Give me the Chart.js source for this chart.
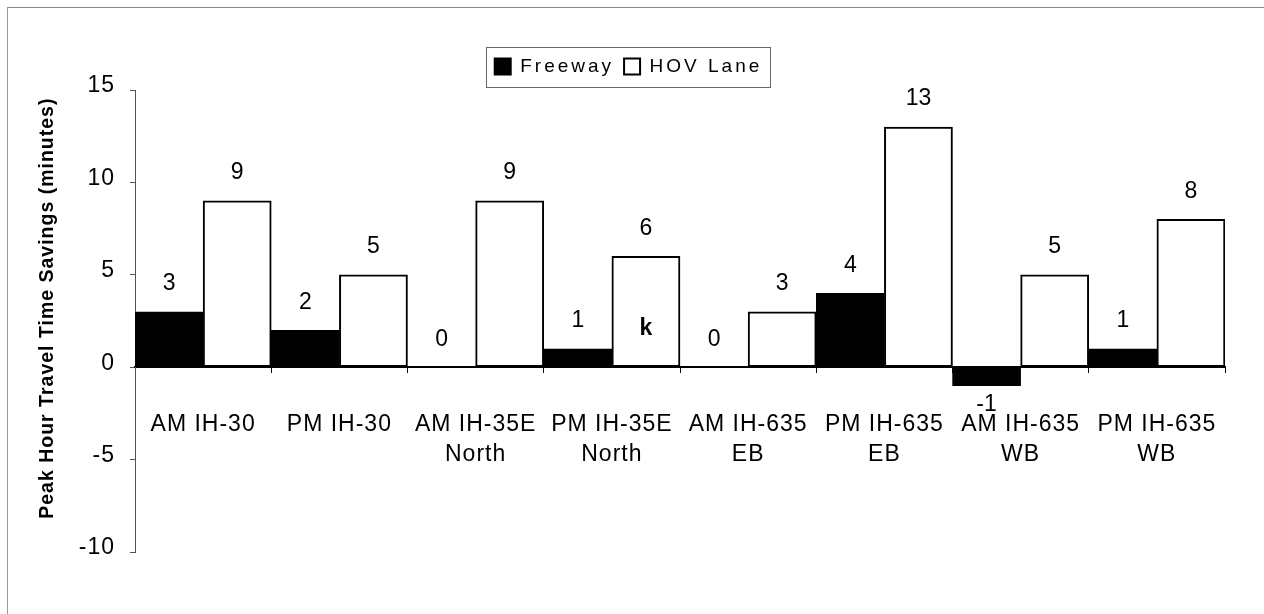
<!DOCTYPE html>
<html><head><meta charset="utf-8">
<script src="https://cdn.jsdelivr.net/npm/chart.js@4.4.0/dist/chart.umd.min.js"></script>
<style>
html,body{margin:0;padding:0;background:#fff;overflow:hidden}
#wrap{position:relative;width:1264px;height:614px}
#frame{position:absolute;left:7px;top:7px;width:1300px;height:700px;border-left:1px solid #9a9a9a;border-top:1px solid #8a8a8a;pointer-events:none}
canvas{display:block}
</style></head><body>
<div id="wrap"><canvas id="c" width="1264" height="614"></canvas><div id="frame"></div></div>
<script>
const categories = [['AM IH-30'],['PM IH-30'],['AM IH-35E','North'],['PM IH-35E','North'],['AM IH-635','EB'],['PM IH-635','EB'],['AM IH-635','WB'],['PM IH-635','WB']];
const seriesNames = ['Freeway','HOV Lane'];
const freeway = [3,2,0,1,0,4,-1,1];
const hovLane = [9,5,9,6,3,13,5,8];
const yTicks = [-10,-5,0,5,10,15];
const yTitle = '    Peak Hour Travel Time Savings (minutes)';
const notes = [{series:1, index:3, value:2.1, text:'k'}];

const FONT = "'Liberation Sans', Arial, sans-serif";

function patchLegend(chart){
  const lg = chart.legend;
  if(!lg || lg._patched) return;
  lg._patched = true;
  const f = lg.fit, d = lg.draw;
  lg.fit = function(){
    const c = this.ctx, o = c.letterSpacing;
    c.letterSpacing = '3px';
    f.call(this);
    c.letterSpacing = o;
    this.height += 4;
  };
  lg.draw = function(){
    const c = this.ctx, o = c.letterSpacing;
    c.letterSpacing = '3px';
    d.call(this);
    c.letterSpacing = o;
  };
}

const spacingPlugin = {
  id:'spacing',
  beforeLayout(chart){ chart.ctx.letterSpacing='1px'; patchLegend(chart); },
  beforeDraw(chart){ chart.ctx.letterSpacing='1px'; }
};

const labelPlugin = {
  id:'valueLabels',
  afterDatasetsDraw(chart){
    const ctx = chart.ctx;
    ctx.save();
    ctx.letterSpacing='0px';
    ctx.fillStyle='#000';
    ctx.textAlign='center';
    ctx.textBaseline='middle';
    ctx.font = "23px " + FONT;
    chart.data.datasets.forEach((ds, di)=>{
      const meta = chart.getDatasetMeta(di);
      meta.data.forEach((el, i)=>{
        const v = ds.data[i];
        const y = v >= 0 ? el.y - 28 : el.y + 19;
        ctx.fillText(String(v), el.x, y);
      });
    });
    ctx.font = "bold 23px " + FONT;
    notes.forEach(n=>{
      const el = chart.getDatasetMeta(n.series).data[n.index];
      ctx.fillText(n.text, el.x, chart.scales.y.getPixelForValue(n.value));
    });
    ctx.restore();
  }
};

const legendFrame = {
  id:'legendFrame',
  afterDraw(chart){
    const lg = chart.legend;
    if(!lg || !lg.legendHitBoxes || !lg.legendHitBoxes.length) return;
    const hb = lg.legendHitBoxes;
    let l = Infinity, r = -Infinity, cy = 0;
    hb.forEach(h=>{ l=Math.min(l,h.left); r=Math.max(r,h.left+h.width); cy = h.top + h.height/2; });
    const ctx = chart.ctx;
    ctx.save();
    ctx.strokeStyle='#666';
    ctx.lineWidth=1;
    ctx.strokeRect(Math.round(l-9)+0.5, Math.round(cy-20)+0.5, Math.round(r-l+16), 40);
    ctx.restore();
  }
};

new Chart(document.getElementById('c'), {
  type:'bar',
  data:{
    labels: categories,
    datasets:[
      {label:seriesNames[0], data:freeway, backgroundColor:'#000', borderColor:'#000', borderWidth:2, borderSkipped:false, categoryPercentage:1, barPercentage:1},
      {label:seriesNames[1], data:hovLane, backgroundColor:'#fff', borderColor:'#000', borderWidth:2, borderSkipped:false, categoryPercentage:1, barPercentage:1}
    ]
  },
  options:{
    responsive:false,
    animation:false,
    devicePixelRatio:1,
    layout:{padding:{left:32, right:39, top:47, bottom:62}},
    plugins:{
      tooltip:{enabled:false},
      legend:{
        display:true, position:'top',
        labels:{boxWidth:16, boxHeight:16, padding:10, color:'#000', font:{family:FONT, size:19}}
      }
    },
    scales:{
      x:{
        type:'category',
        position:{y:0},
        offset:true,
        grid:{display:true, drawOnChartArea:false, drawTicks:true, tickLength:5, color:'#000', offset:true},
        border:{display:true, color:'#000', width:2},
        ticks:{color:'#000', font:{family:FONT, size:23, lineHeight:1.3}, padding:38, maxRotation:0, minRotation:0, autoSkip:false}
      },
      y:{
        min:-10, max:15,
        afterBuildTicks(s){ s.ticks = yTicks.map(v=>({value:v})); },
        afterFit(s){ s.width = 103; },
        grid:{display:true, drawOnChartArea:false, drawTicks:true, tickLength:5, color:'#555'},
        border:{display:true, color:'#555', width:1},
        ticks:{color:'#000', font:{family:FONT, size:23}, padding:15, labelOffset:-4},
        title:{display:true, text:yTitle, color:'#000', font:{family:FONT, size:19.5, weight:'bold'}, padding:{top:4, bottom:0}}
      }
    }
  },
  plugins:[spacingPlugin, labelPlugin, legendFrame]
});
</script>
</body></html>
